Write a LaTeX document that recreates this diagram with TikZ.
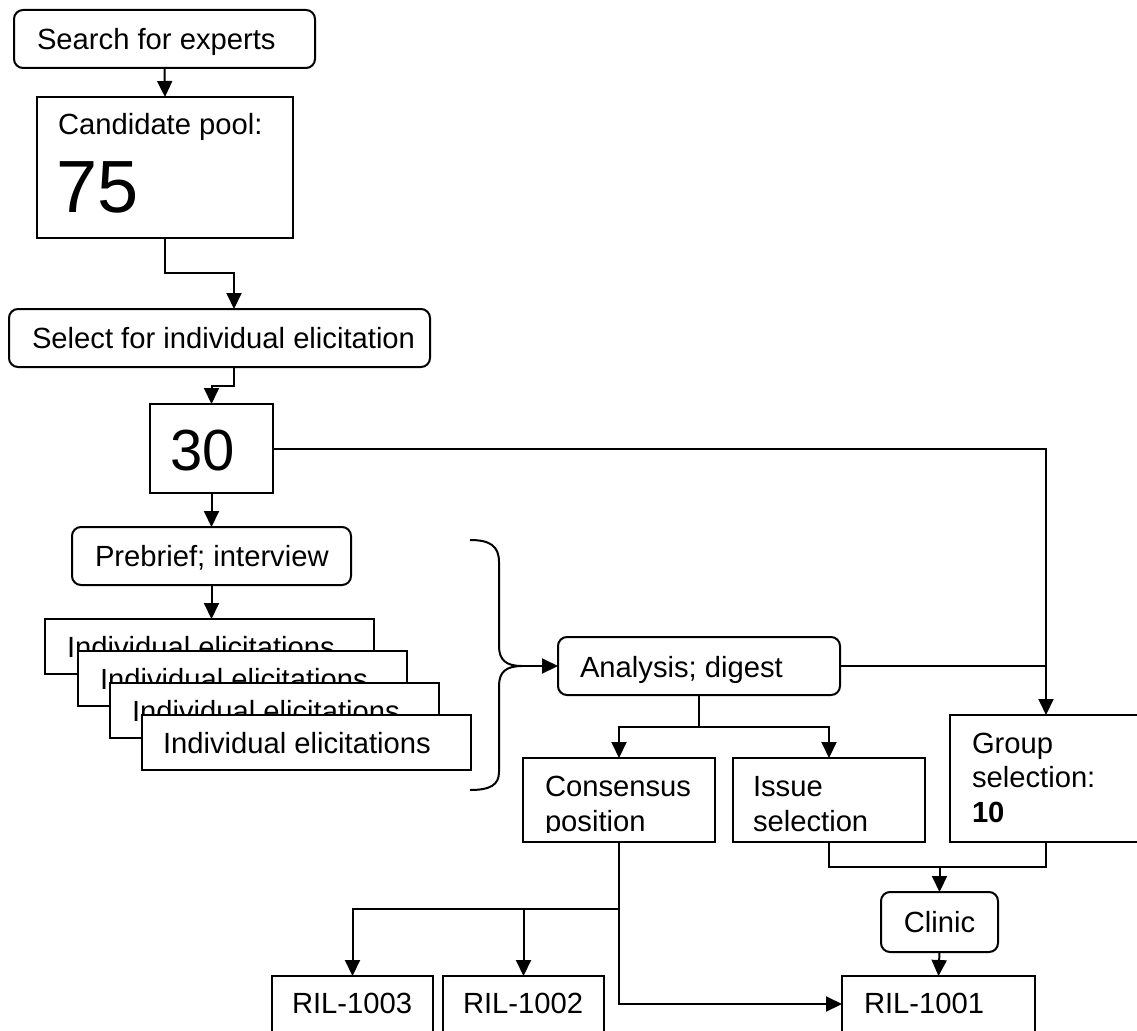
\documentclass[tikz,border=0pt]{standalone}
\usepackage{fontspec}
\setmainfont{Liberation Sans}
\usetikzlibrary{arrows.meta}

\begin{document}
\begin{tikzpicture}[x=1pt,y=-1pt,
  line width=2pt,
  flow/.style={-{Triangle[length=16pt,width=15pt]}},
  box/.style={draw, fill=white, inner sep=0pt, outer sep=0pt, anchor=north west},
  rbox/.style={box, rounded corners=9pt},
  lbl/.style={anchor=base west, inner sep=0pt, outer sep=0pt, font=\fontsize{29.2}{35}\selectfont},
]
\clip (0,0) rectangle (1137,1030);
\fill[white] (0,0) rectangle (1137,1030);

% --- recruitment ---------------------------------------------------------
\node[rbox, minimum width=301pt, minimum height=58pt] (search) at (14,10) {};
\node[lbl] (searchT) at (37,50) {Search for experts};

\node[box, minimum width=256pt, minimum height=141pt] (cand) at (37,97) {};
\node[lbl] (candT) at (58,135) {Candidate pool:};
\node[lbl, font=\fontsize{74}{80}\selectfont] (candN) at (56,212) {75};

\node[rbox, minimum width=421pt, minimum height=58pt] (select) at (9,309) {};
\node[lbl] (selectT) at (32,348) {Select for individual elicitation};

\node[box, minimum width=123pt, minimum height=89pt] (n30) at (150,404) {};
\node[lbl, font=\fontsize{58}{64}\selectfont] (n30T) at (170,470) {30};

\node[rbox, minimum width=279pt, minimum height=58pt] (prebrief) at (72,527) {};
\node[lbl] (prebriefT) at (95,566) {Prebrief; interview};

% --- stacked individual elicitations ------------------------------------
\node[box, minimum width=329pt, minimum height=55pt] (ie1) at (45,619) {};
\node[lbl] (ie1T) at (67,657) {Individual elicitations};
\node[box, minimum width=329pt, minimum height=55pt] (ie2) at (78,651) {};
\node[lbl] (ie2T) at (100,689) {Individual elicitations};
\node[box, minimum width=329pt, minimum height=55pt] (ie3) at (110,683) {};
\node[lbl] (ie3T) at (132,721) {Individual elicitations};
\node[box, minimum width=329pt, minimum height=55pt] (ie4) at (142,715) {};
\node[lbl] (ie4T) at (163,753) {Individual elicitations};

% --- analysis and outputs -----------------------------------------------
\node[rbox, minimum width=282pt, minimum height=58pt] (analysis) at (558,637) {};
\node[lbl] (analysisT) at (580,677) {Analysis; digest};

\node[box, minimum width=192pt, minimum height=84pt] (cons) at (523,758) {};
\node[box, minimum width=192pt, minimum height=84pt] (issue) at (733,758) {};
\begin{scope}
  \clip (523,758) rectangle (715,832);
  \node[lbl] (consT1) at (545,796) {Consensus};
  \node[lbl] (consT2) at (545,831) {position};
\end{scope}
\begin{scope}
  \clip (733,758) rectangle (925,832);
  \node[lbl] (issueT1) at (753,796) {Issue};
  \node[lbl] (issueT2) at (753,831) {selection};
\end{scope}

\node[box, minimum width=192pt, minimum height=127pt] (group) at (950,715) {};
\node[lbl] (groupT1) at (972,753) {Group};
\node[lbl] (groupT2) at (972,787) {selection:};
\node[lbl, font=\fontsize{29.2}{35}\selectfont\bfseries] (groupT3) at (972,822) {10};

\node[rbox, minimum width=117pt, minimum height=60pt] (clinic) at (881,892) {};
\node[lbl, anchor=base] (clinicT) at (939.5,932) {Clinic};

\node[box, minimum width=161pt, minimum height=56pt] (ril3) at (272,976) {};
\node[lbl] (ril3T) at (292,1013) {RIL-1003};
\node[box, minimum width=161pt, minimum height=56pt] (ril2) at (443,976) {};
\node[lbl] (ril2T) at (463,1013) {RIL-1002};
\node[box, minimum width=193pt, minimum height=56pt] (ril1) at (842,976) {};
\node[lbl] (ril1T) at (864,1013) {RIL-1001};

% --- connectors ----------------------------------------------------------
\draw[flow] (search.south) -- (cand.north);
\draw[flow] (cand.south) -- ++(0,35) -| ([xshift=14.5pt]select.north);
\draw[flow] ([xshift=14pt]select.south) -- ++(0,19) -| (n30.north);
\draw[flow] (n30.east) -| (group.north);
\draw[flow] (n30.south) -- (prebrief.north);
\draw[flow] (prebrief.south) -- (prebrief.south |- ie1.north);

% brace gathering the individual elicitations
\draw (470,540) .. controls (490,540) and (499,546) .. (499,562)
  -- (499,646) .. controls (499,660) and (506,666) .. (522,666) coordinate (bracetip)
  .. controls (506,666) and (499,672) .. (499,686)
  -- (499,772) .. controls (499,785) and (490,790) .. (470,790);
\draw[flow] (bracetip) -- (analysis.west);

\draw (analysis.east) -- (analysis.east -| group.north);
\draw (analysis.south) -- ++(0,32) coordinate (split);
\draw[flow] (split) -| (cons.north);
\draw[flow] (split) -| (issue.north);

\draw (issue.south) -- ++(0,25) coordinate (join) -| (group.south);
\draw[flow] (join -| clinic.north) -- (clinic.north);
\draw[flow] (clinic.south) -- (ril1.north);

\draw (cons.south) -- ++(0,67) coordinate (fan);
\draw[flow] (fan) -| (ril3.north);
\draw[flow] (fan) -| (ril2.north);
\draw[flow] (fan) |- (ril1.west);
\end{tikzpicture}
\end{document}
